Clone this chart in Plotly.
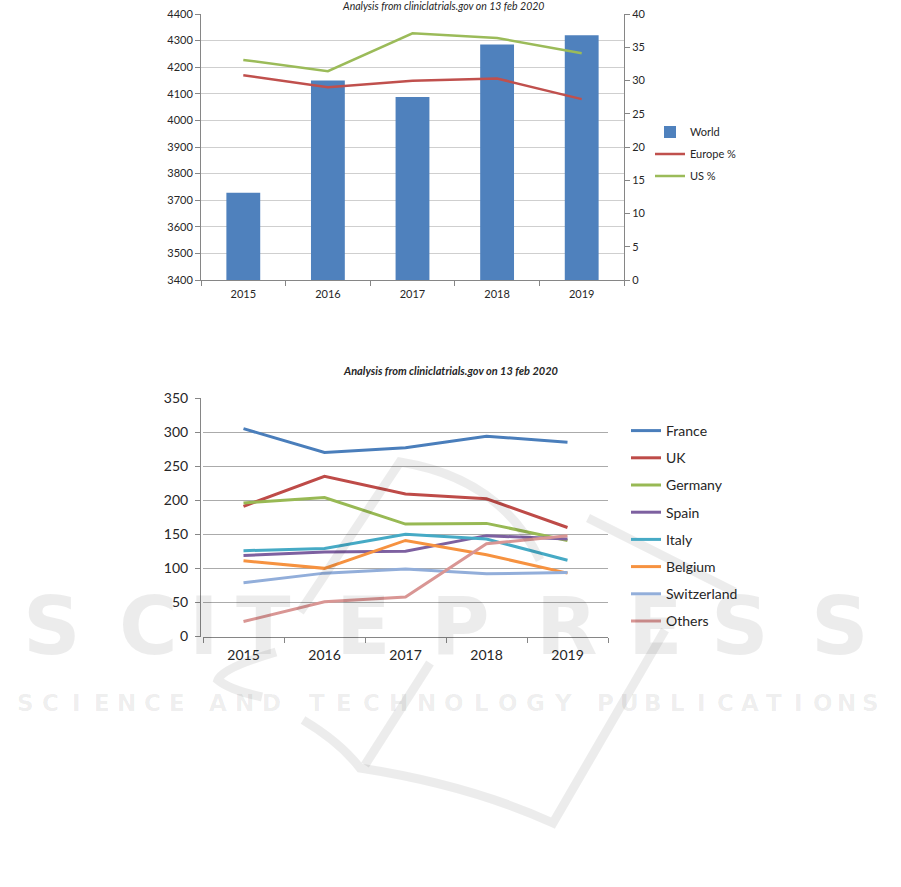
import plotly.graph_objects as go

W, H = 901, 887
OFF = 0

# ---------------- data ----------------
years = ["2015", "2016", "2017", "2018", "2019"]

world = [3728, 4150, 4088, 4285, 4320]
europe_pct = [30.8, 29.0, 29.95, 30.3, 27.2]
us_pct = [33.1, 31.4, 37.1, 36.4, 34.1]

countries = ["France", "UK", "Germany", "Spain", "Italy", "Belgium", "Switzerland", "Others"]
france = [305, 270, 277, 294, 285]
uk = [191, 235, 209, 202, 160]
germany = [196, 204, 165, 166, 141]
spain = [119, 124, 125, 148, 143]
italy = [126, 129, 150, 143, 112]
belgium = [111, 100, 141, 120, 93]
switzerland = [79, 93, 99, 92, 94]
others = [22, 51, 58, 136, 148]
country_values = [france, uk, germany, spain, italy, belgium, switzerland, others]

country_colors = ["#4A7EBB", "#BE4B48", "#98B954", "#7D60A0",
                  "#46AAC5", "#F69240", "#92AEDA", "#D99694"]

title_text = "Analysis from cliniclatrials.gov on 13 feb 2020"

FONT = "Lato"


def px(x):
    return (x - OFF) / W


def py(y):
    return 1 - (y - OFF) / H


fig = go.Figure()

# ---------------- chart 1 ----------------
fig.add_trace(go.Bar(x=years, y=world, name="World", marker_color="#4F81BD",
                     xaxis="x", yaxis="y", legend="legend", legendgroup="w",
                     marker_line_width=0))
fig.add_trace(go.Scatter(x=years, y=europe_pct, name="Europe %", mode="lines",
                         line=dict(color="#C0504D", width=2.5),
                         xaxis="x", yaxis="y2", legend="legend", legendgroup="e"))
fig.add_trace(go.Scatter(x=years, y=us_pct, name="US %", mode="lines",
                         line=dict(color="#9BBB59", width=2.5),
                         xaxis="x", yaxis="y2", legend="legend", legendgroup="u"))

# ---------------- chart 2 ----------------
for name, vals, col in zip(countries, country_values, country_colors):
    fig.add_trace(go.Scatter(x=years, y=vals, name=name, mode="lines",
                             line=dict(color=col, width=3),
                             xaxis="x3", yaxis="y3", legend="legend2",
                             legendgroup=name))

axis_col = "#868686"
txt_col = "#262626"

fig.update_layout(
    width=W, height=H,
    margin=dict(l=0, r=0, t=0, b=0, autoexpand=False),
    paper_bgcolor="white",
    plot_bgcolor="rgba(0,0,0,0)",
    font=dict(family=FONT, color=txt_col),
    bargap=0.6,
    xaxis=dict(domain=[px(201), px(624)], anchor="y", type="category",
               range=[-0.5, 4.5], automargin=False, ticklabelstandoff=4,
               ticklabeloverflow="allow",
               showline=True, linecolor=axis_col, linewidth=1,
               ticks="outside", tickson="boundaries", ticklen=5, tickcolor=axis_col,
               tickfont=dict(size=11, color=txt_col), showgrid=False),
    yaxis=dict(domain=[py(280), py(14)], range=[3400, 4400], dtick=100, automargin=False,
               ticklabeloverflow="allow",
               showline=True, linecolor=axis_col, ticks="outside", ticklen=5,
               tickcolor=axis_col, showgrid=True, gridcolor="#CFCFCF",
               tickfont=dict(size=11, color=txt_col), zeroline=False),
    yaxis2=dict(overlaying="y", side="right", anchor="x", range=[0, 40], dtick=5,
                automargin=False, ticklabeloverflow="allow",
                showline=True, linecolor=axis_col, ticks="outside", ticklen=5,
                tickcolor=axis_col, showgrid=False,
                tickfont=dict(size=11, color=txt_col), zeroline=False),
    xaxis3=dict(domain=[px(203), px(608)], anchor="y3", type="category",
                range=[-0.5, 4.5], automargin=False, ticklabelstandoff=6,
                ticklabeloverflow="allow",
                showline=True, linecolor=axis_col, linewidth=1,
                ticks="outside", tickson="boundaries", ticklen=5, tickcolor=axis_col,
                tickfont=dict(size=14, color=txt_col), showgrid=False),
    yaxis3=dict(domain=[py(636.5), py(398)], range=[0, 350], dtick=50, automargin=False,
                ticklabelstandoff=4, ticklabeloverflow="allow",
                showline=True, linecolor=axis_col, ticks="outside", ticklen=5,
                tickcolor=axis_col, showgrid=True, gridcolor="#ABABAB",
                tickfont=dict(size=14, color=txt_col), zeroline=False),
    legend=dict(x=px(650), y=py(117.5), xanchor="left", yanchor="top",
                font=dict(size=11, color=txt_col), bgcolor="rgba(0,0,0,0)",
                traceorder="grouped", tracegroupgap=3, itemwidth=30),
    legend2=dict(x=px(626), y=py(415), xanchor="left", yanchor="top",
                 font=dict(size=14, color=txt_col), bgcolor="rgba(0,0,0,0)",
                 traceorder="grouped", tracegroupgap=6, itemwidth=30),
)

annotations = [
    dict(text=title_text, x=px(443), y=py(6), xref="paper", yref="paper",
         xanchor="center", yanchor="middle",
         showarrow=False, font=dict(size=10.5, style="italic", color=txt_col)),
    dict(text=title_text, x=px(451), y=py(370), xref="paper", yref="paper",
         xanchor="center", yanchor="middle",
         showarrow=False, font=dict(size=11, style="italic", weight="bold", color=txt_col)),
]

# ---------------- watermark ----------------
wm = "rgba(0,0,0,0.075)"
letters = ["S", "C", "I", "T", "E", "P", "R", "E", "S", "S"]
letter_x = [52, 148, 204, 263, 363, 460, 567, 655, 740, 840]
for ch, lx in zip(letters, letter_x):
    annotations.append(dict(text=ch, x=px(lx), y=py(626), xref="paper", yref="paper",
                            xanchor="center", yanchor="middle", showarrow=False,
                            font=dict(size=80, family="DejaVu Sans", weight="bold", color=wm)))
words = [("SCIENCE", 13, 190), ("AND", 205, 285), ("TECHNOLOGY", 303, 577),
         ("PUBLICATIONS", 593, 883)]
for wd, x0, x1 in words:
    step = (x1 - x0) / len(wd)
    for k, ch in enumerate(wd):
        annotations.append(dict(text=ch, x=px(x0 + step * (k + 0.5)), y=py(703),
                                xref="paper", yref="paper",
                                xanchor="center", yanchor="middle", showarrow=False,
                                font=dict(size=23, family="DejaVu Sans", weight="bold",
                                          color=wm)))
fig.update_layout(annotations=annotations)

shapes = []
logo_paths = [
    "M 300,612 L 400,462 Q 500,478 540,560",
    "M 588,518 L 735,592",
    "M 276,652 Q 222,668 218,680 Q 230,690 262,697",
    "M 303,720 Q 340,742 360,768 Q 470,785 553,823 L 665,630",
    "M 365,765 L 430,663",
]


def conv(path):
    out = []
    toks = path.replace(",", " ").split()
    i = 0
    while i < len(toks):
        t = toks[i]
        if t.isalpha():
            out.append(t)
            i += 1
        else:
            x = float(toks[i]); y = float(toks[i + 1])
            out.append(f"{px(x):.5f},{py(y):.5f}")
            i += 2
    return " ".join(out)


for p in logo_paths:
    shapes.append(dict(type="path", path=conv(p), xref="paper", yref="paper",
                       line=dict(color=wm, width=9), layer="above"))
fig.update_layout(shapes=shapes)

fig.write_html("out.html",
               config={"displayModeBar": False},
               post_script="document.body.style.margin='0';document.body.style.padding='0';")
